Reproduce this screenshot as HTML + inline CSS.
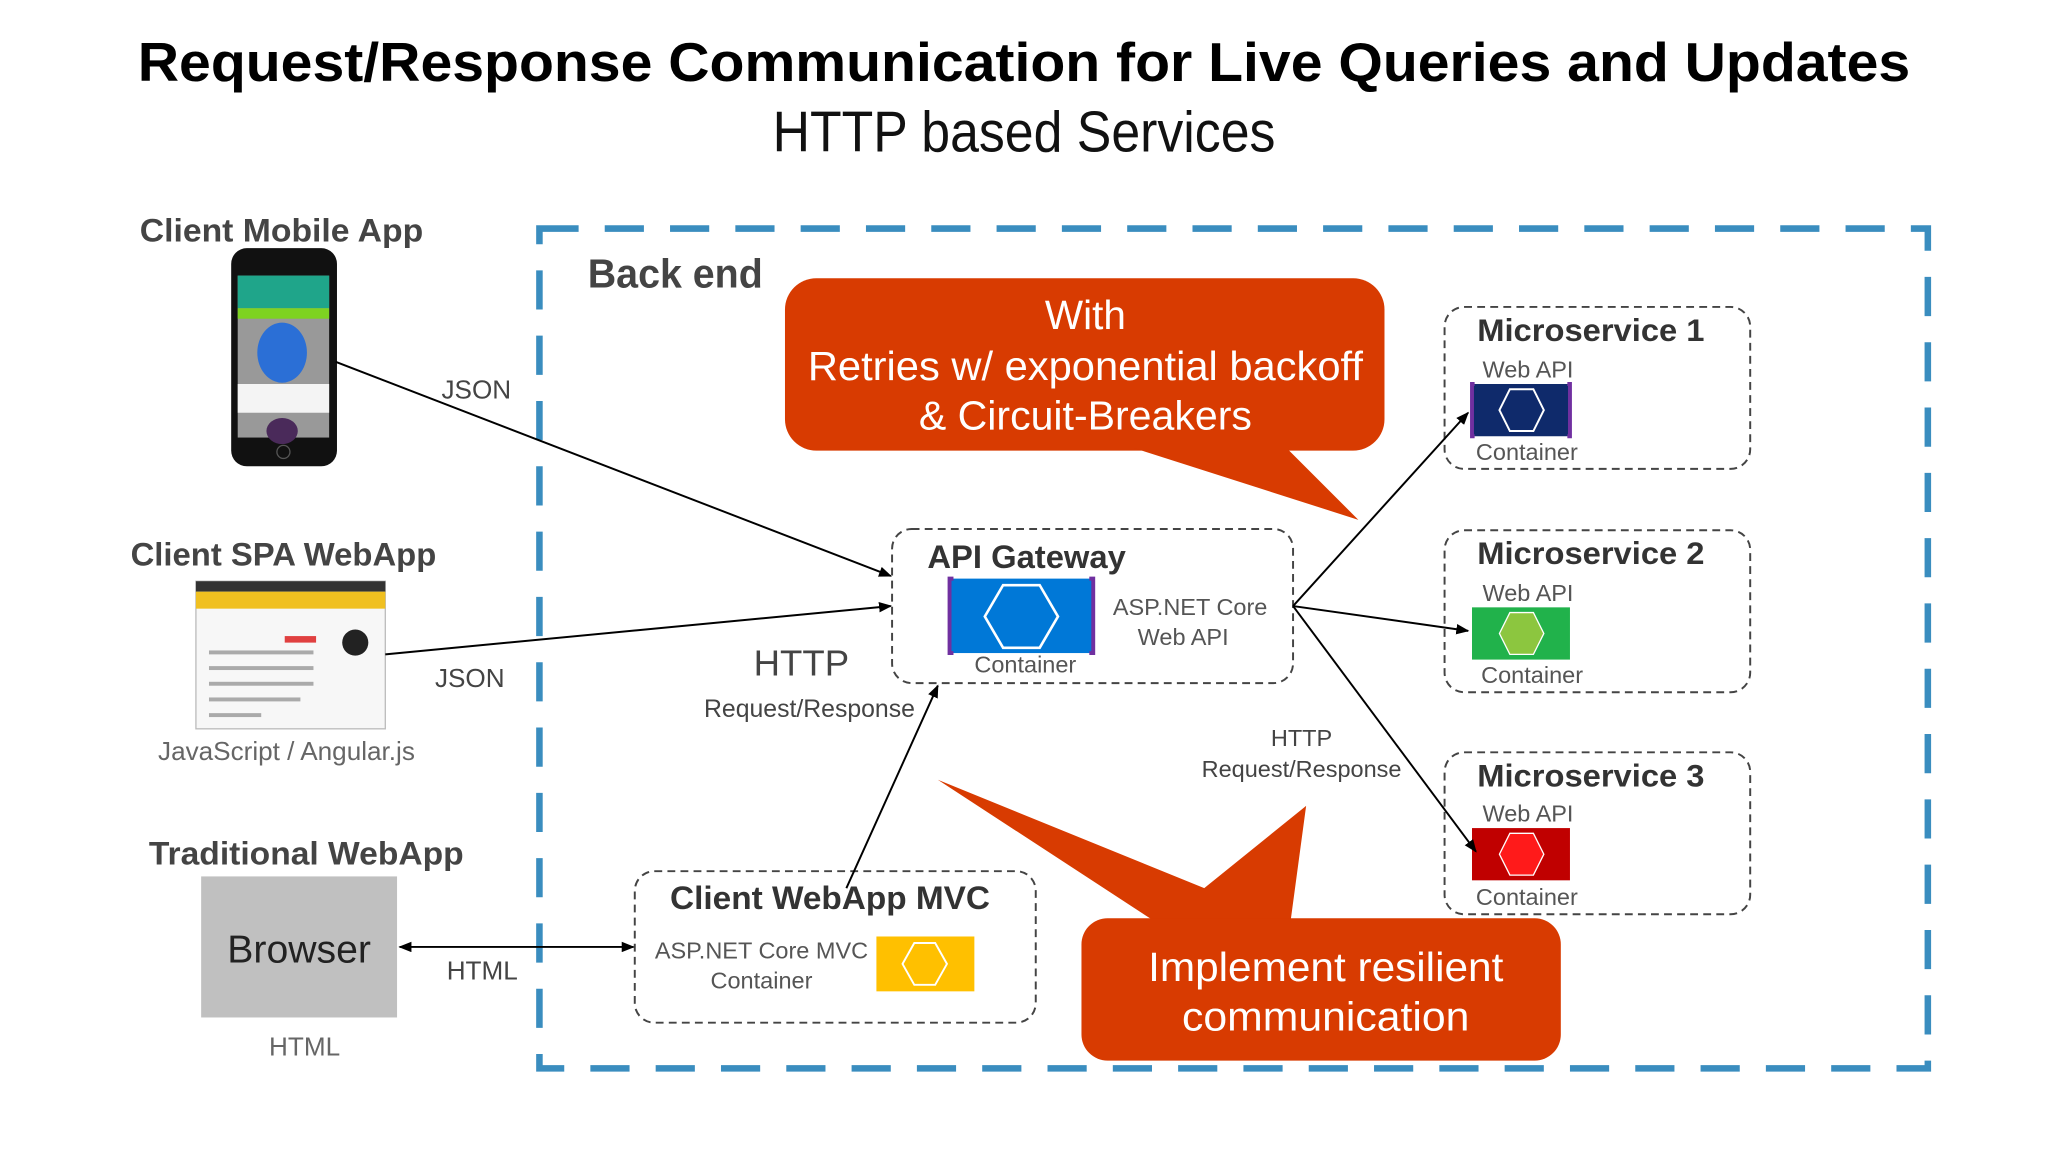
<!DOCTYPE html>
<html><head><meta charset="utf-8"><style>
html,body{margin:0;padding:0;background:#fff;width:2048px;height:1152px;overflow:hidden}
svg{display:block}
text{font-family:"Liberation Sans",sans-serif}
</style></head><body>
<svg width="2048" height="1152" viewBox="0 0 1568 882" preserveAspectRatio="none" xmlns="http://www.w3.org/2000/svg">
<defs>
<marker id="ah" markerWidth="10" markerHeight="8" refX="9" refY="4" orient="auto" markerUnits="userSpaceOnUse"><path d="M0,0 L10,4 L0,8 z" fill="#000"/></marker>
<marker id="ahs" markerWidth="10" markerHeight="8" refX="1" refY="4" orient="auto" markerUnits="userSpaceOnUse"><path d="M10,0 L0,4 L10,8 z" fill="#000"/></marker>
</defs>
<rect width="1568" height="882" fill="#fff"/>
<text x="784" y="62" text-anchor="middle" font-size="42" font-weight="bold" textLength="1357" lengthAdjust="spacingAndGlyphs">Request/Response Communication for Live Queries and Updates</text>
<text x="784" y="116" text-anchor="middle" font-size="44" fill="#111" textLength="385" lengthAdjust="spacingAndGlyphs">HTTP based Services</text>

<rect x="413" y="175" width="1063" height="643" fill="none" stroke="#3a8dbf" stroke-width="5" stroke-dasharray="30 20"/>
<text x="450" y="220" font-size="31" font-weight="bold" fill="#444" textLength="134" lengthAdjust="spacingAndGlyphs">Back end</text>

<!-- callout 1 -->
<rect x="601" y="213" width="459" height="132" rx="24" fill="#d83b01"/>
<polygon points="868,343 985,343 1040,398" fill="#d83b01"/>
<g fill="#fff" font-size="31" text-anchor="middle">
<text x="831" y="252">With</text>
<text x="831" y="291" textLength="425" lengthAdjust="spacingAndGlyphs">Retries w/ exponential backoff</text>
<text x="831" y="329" textLength="255" lengthAdjust="spacingAndGlyphs">&amp; Circuit-Breakers</text>
</g>

<!-- callout 2 -->
<polygon points="718,597 922,680 1000,617 988,706 885,706" fill="#d83b01"/>
<rect x="828" y="703" width="367" height="109" rx="20" fill="#d83b01"/>
<g fill="#fff" font-size="31" text-anchor="middle">
<text x="1015" y="751" textLength="272" lengthAdjust="spacingAndGlyphs">Implement resilient</text>
<text x="1015" y="789" textLength="220" lengthAdjust="spacingAndGlyphs">communication</text>
</g>

<!-- API gateway -->
<rect x="683" y="405" width="307" height="118" rx="15" fill="none" stroke="#444" stroke-width="1.5" stroke-dasharray="6 4"/>
<text x="710" y="435" font-size="25" font-weight="bold" fill="#333" textLength="152" lengthAdjust="spacingAndGlyphs">API Gateway</text>
<rect x="727" y="443" width="110" height="57" fill="#0078d7"/>
<path d="M730,443 h-3 v57 h3 M834,443 h3 v57 h-3" stroke="#7030a0" stroke-width="3" fill="none"/>
<polygon points="768,448 796,448 810,472 796,496 768,496 754,472" fill="none" stroke="#fff" stroke-width="2"/>
<text x="746" y="515" font-size="18" fill="#555">Container</text>
<text x="852" y="471" font-size="18" fill="#555">ASP.NET Core</text>
<text x="871" y="494" font-size="18" fill="#555">Web API</text>

<!-- microservices -->
<g font-size="18" fill="#555">
<rect x="1106" y="235" width="234" height="124" rx="15" fill="none" stroke="#444" stroke-width="1.5" stroke-dasharray="6 4"/>
<text x="1131" y="261" font-size="24" font-weight="bold" fill="#333" textLength="174" lengthAdjust="spacingAndGlyphs">Microservice 1</text>
<text x="1135" y="289">Web API</text>
<rect x="1127" y="294" width="75" height="40" fill="#0f2a6b"/>
<path d="M1129,294 h-2 v40 h2 M1200,294 h2 v40 h-2" stroke="#7030a0" stroke-width="3" fill="none"/>
<polygon points="1156,298 1174,298 1182,314 1174,330 1156,330 1148,314" fill="none" stroke="#fff" stroke-width="1.5"/>
<text x="1130" y="352">Container</text>

<rect x="1106" y="406" width="234" height="124" rx="15" fill="none" stroke="#444" stroke-width="1.5" stroke-dasharray="6 4"/>
<text x="1131" y="432" font-size="24" font-weight="bold" fill="#333" textLength="174" lengthAdjust="spacingAndGlyphs">Microservice 2</text>
<text x="1135" y="460">Web API</text>
<rect x="1127" y="465" width="75" height="40" fill="#21b24b"/>
<polygon points="1156,469 1174,469 1182,485 1174,501 1156,501 1148,485" fill="#8cc63f" stroke="#fff" stroke-width="1"/>
<text x="1134" y="523">Container</text>

<rect x="1106" y="576" width="234" height="124" rx="15" fill="none" stroke="#444" stroke-width="1.5" stroke-dasharray="6 4"/>
<text x="1131" y="602" font-size="24" font-weight="bold" fill="#333" textLength="174" lengthAdjust="spacingAndGlyphs">Microservice 3</text>
<text x="1135" y="629">Web API</text>
<rect x="1127" y="634" width="75" height="40" fill="#c00000"/>
<polygon points="1156,638 1174,638 1182,654 1174,670 1156,670 1148,654" fill="#ff1a1a" stroke="#fff" stroke-width="1"/>
<text x="1130" y="693">Container</text>
</g>

<!-- MVC -->
<rect x="486" y="667" width="307" height="116" rx="15" fill="none" stroke="#444" stroke-width="1.5" stroke-dasharray="6 4"/>
<text x="513" y="696" font-size="25" font-weight="bold" fill="#333" textLength="245" lengthAdjust="spacingAndGlyphs">Client WebApp MVC</text>
<text x="583" y="734" font-size="18" fill="#555" text-anchor="middle">ASP.NET Core MVC</text>
<text x="583" y="757" font-size="18" fill="#555" text-anchor="middle">Container</text>
<rect x="671" y="717" width="75" height="42" fill="#ffc000"/>
<polygon points="700,722 716,722 725,738 716,754 700,754 691,738" fill="none" stroke="#fff" stroke-width="1.5"/>

<!-- Left clients -->
<text x="107" y="185" font-size="25" font-weight="bold" fill="#444" textLength="217" lengthAdjust="spacingAndGlyphs">Client Mobile App</text>
<rect x="177" y="190" width="81" height="167" rx="12" fill="#111"/>
<rect x="182" y="211" width="70" height="124" fill="#999"/>
<rect x="182" y="211" width="70" height="25" fill="#1fa58a"/>
<rect x="182" y="236" width="70" height="8" fill="#7ed321"/>
<ellipse cx="216" cy="270" rx="19" ry="23" fill="#2b6fd6"/>
<rect x="182" y="294" width="70" height="22" fill="#f4f4f4"/>
<ellipse cx="216" cy="330" rx="12" ry="10" fill="#4a2a5a"/>
<circle cx="217" cy="346" r="5" fill="none" stroke="#555"/>

<text x="100" y="433" font-size="25" font-weight="bold" fill="#444" textLength="234" lengthAdjust="spacingAndGlyphs">Client SPA WebApp</text>
<rect x="150" y="445" width="145" height="113" fill="#f7f7f7" stroke="#bbb"/>
<rect x="150" y="445" width="145" height="8" fill="#333"/>
<rect x="150" y="453" width="145" height="13" fill="#f0c020"/>
<rect x="218" y="487" width="24" height="5" fill="#e04040"/>
<circle cx="272" cy="492" r="10" fill="#222"/>
<g fill="#aaa"><rect x="160" y="498" width="80" height="3"/><rect x="160" y="510" width="80" height="3"/><rect x="160" y="522" width="80" height="3"/><rect x="160" y="534" width="70" height="3"/><rect x="160" y="546" width="40" height="3"/></g>
<text x="121" y="582" font-size="20" fill="#666">JavaScript / Angular.js</text>

<text x="114" y="662" font-size="25" font-weight="bold" fill="#444" textLength="241" lengthAdjust="spacingAndGlyphs">Traditional WebApp</text>
<rect x="154" y="671" width="150" height="108" fill="#c0c0c0"/>
<text x="229" y="737" font-size="30" fill="#222" text-anchor="middle">Browser</text>
<text x="206" y="808" font-size="20" fill="#666">HTML</text>

<!-- connectors -->
<g stroke="#000" stroke-width="1.5" fill="none">
<line x1="257" y1="277" x2="682" y2="441" marker-end="url(#ah)"/>
<line x1="295" y1="501" x2="682" y2="464" marker-end="url(#ah)"/>
<line x1="648" y1="680" x2="718" y2="525" marker-end="url(#ah)"/>
<line x1="306" y1="725" x2="485" y2="725" marker-start="url(#ahs)" marker-end="url(#ah)"/>
<line x1="990" y1="464" x2="1124" y2="316" marker-end="url(#ah)"/>
<line x1="990" y1="464" x2="1124" y2="483" marker-end="url(#ah)"/>
<line x1="990" y1="464" x2="1130" y2="652" marker-end="url(#ah)"/>
</g>
<g font-size="20" fill="#444">
<text x="338" y="305">JSON</text>
<text x="333" y="526">JSON</text>
<text x="342" y="750">HTML</text>
<text x="577" y="517" font-size="28">HTTP</text>
<text x="539" y="549" font-size="19">Request/Response</text>
<text x="973" y="571" font-size="18">HTTP</text>
<text x="920" y="595" font-size="18">Request/Response</text>
</g>
</svg>
</body></html>
